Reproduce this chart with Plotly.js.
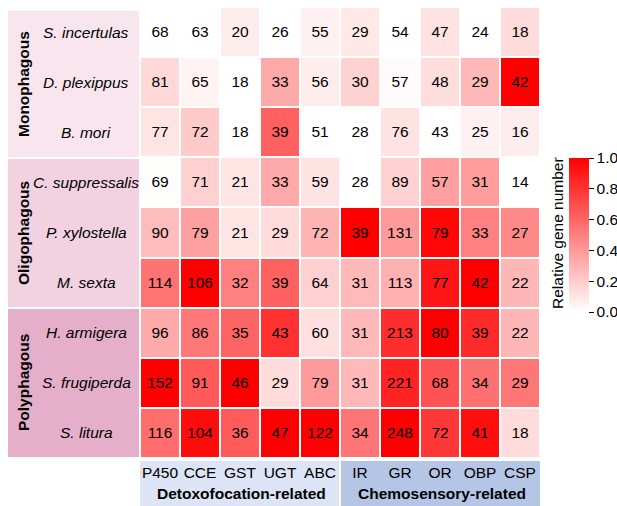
<!DOCTYPE html>
<html>
<head>
<meta charset="utf-8">
<script src="https://cdn.plot.ly/plotly-3.0.1.min.js"></script>
<style>html,body{margin:0;padding:0;background:#fff;}</style>
</head>
<body>
<div id="chart" style="width:617px;height:506px;"></div>
<script>
const species = ["S. incertulas","D. plexippus","B. mori","C. suppressalis","P. xylostella","M. sexta","H. armigera","S. frugiperda","S. litura"];
const families = ["P450","CCE","GST","UGT","ABC","IR","GR","OR","OBP","CSP"];
const sIncertulas = [68,63,20,26,55,29,54,47,24,18];
const dPlexippus  = [81,65,18,33,56,30,57,48,29,42];
const bMori       = [77,72,18,39,51,28,76,43,25,16];
const cSuppressalis = [69,71,21,33,59,28,89,57,31,14];
const pXylostella = [90,79,21,29,72,39,131,79,33,27];
const mSexta      = [114,106,32,39,64,31,113,77,42,22];
const hArmigera   = [96,86,35,43,60,31,213,80,39,22];
const sFrugiperda = [152,91,46,29,79,31,221,68,34,29];
const sLitura     = [116,104,36,47,122,34,248,72,41,18];
const groups = ["Monophagous","Oligophagous","Polyphagous"];
const categories = ["Detoxofocation-related","Chemosensory-related"];
const colorbarTitle = "Relative gene number";

const counts = [sIncertulas,dPlexippus,bMori,cSuppressalis,pXylostella,mSexta,hArmigera,sFrugiperda,sLitura];
// relative gene number: min-max scaled within each gene family
const mins = families.map((f,j)=>Math.min(...counts.map(r=>r[j])));
const maxs = families.map((f,j)=>Math.max(...counts.map(r=>r[j])));
const rel = counts.map(r=>r.map((v,j)=>(v-mins[j])/(maxs[j]-mins[j])));

// pixel helpers (plot area x:140-540, y:7-458)
const L=140, R=540, T=7, B=458;
const px = v => (v-L)/(R-L);
const py = v => (B-v)/(B-T);
const FS = 15.5;

const trace = {
  type:'heatmap', x:families, y:species, z:rel, text:counts,
  texttemplate:'%{text}', textfont:{size:FS,color:'#000',family:'Liberation Sans, Arial, sans-serif'},
  colorscale:[[0,'#FFFFFF'],[1,'#FF0000']], zmin:0, zmax:1,
  xgap:2, ygap:2, hoverinfo:'skip',
  colorbar:{x:px(569), xanchor:'left', thickness:20, lenmode:'pixels', len:154,
    y:py(235), yanchor:'middle', outlinewidth:0, ticks:'outside', ticklen:5, tickcolor:'#000',
    tickvals:[0,0.2,0.4,0.6,0.8,1.0], ticktext:['0.0','0.2','0.4','0.6','0.8','1.0'],
    tickfont:{size:FS,color:'#000'}, xpad:0, ypad:0}
};

const boxColors = ['#F8E5EE','#F2D1E1','#E6AFC9'];
const groupBounds = [[11,157],[159,307],[309,457]];
const shapes = [];
groupBounds.forEach((g,i)=>shapes.push({type:'rect',xref:'paper',yref:'paper',x0:px(8),x1:px(139),y0:py(g[1]),y1:py(g[0]),fillcolor:boxColors[i],line:{width:0},layer:'below'}));
shapes.push({type:'rect',xref:'paper',yref:'paper',x0:px(140),x1:px(339),y0:py(506),y1:py(461),fillcolor:'#DCE4F5',line:{width:0},layer:'below'});
shapes.push({type:'rect',xref:'paper',yref:'paper',x0:px(341),x1:px(540),y0:py(506),y1:py(461),fillcolor:'#B4C5E6',line:{width:0},layer:'below'});

const A = {showarrow:false,xanchor:'center',yanchor:'middle'};
const annotations = [];
species.forEach(s=>annotations.push(Object.assign({xref:'paper',yref:'y',x:px(86),y:s,text:'<i>'+s+'</i>',font:{size:FS,color:'#000'}},A)));
groups.forEach((g,i)=>annotations.push(Object.assign({xref:'paper',yref:'paper',x:px(23),y:py((groupBounds[i][0]+groupBounds[i][1])/2),text:'<b>'+g+'</b>',textangle:-90,font:{size:FS,color:'#000'}},A)));
annotations.push(Object.assign({xref:'paper',yref:'paper',x:px(241),y:py(493),text:'<b>'+categories[0]+'</b>',font:{size:FS,color:'#000'}},A));
annotations.push(Object.assign({xref:'paper',yref:'paper',x:px(442),y:py(493),text:'<b>'+categories[1]+'</b>',font:{size:FS,color:'#000'}},A));
annotations.push(Object.assign({xref:'paper',yref:'paper',x:px(557),y:py(233),text:colorbarTitle,textangle:-90,font:{size:FS,color:'#000'}},A));

const layout = {
  width:617, height:506, margin:{l:L,r:617-R,t:T,b:506-B,autoexpand:false},
  paper_bgcolor:'#fff', plot_bgcolor:'#fff',
  font:{family:'Liberation Sans, Arial, sans-serif',size:FS,color:'#000'},
  xaxis:{showgrid:false,zeroline:false,ticks:'',ticklabelstandoff:3,tickfont:{size:FS,color:'#000'},fixedrange:true},
  yaxis:{autorange:'reversed',showgrid:false,zeroline:false,showticklabels:false,ticks:'',fixedrange:true},
  shapes:shapes, annotations:annotations, showlegend:false
};
Plotly.newPlot('chart',[trace],layout,{displayModeBar:false,staticPlot:true});
</script>
</body>
</html>
